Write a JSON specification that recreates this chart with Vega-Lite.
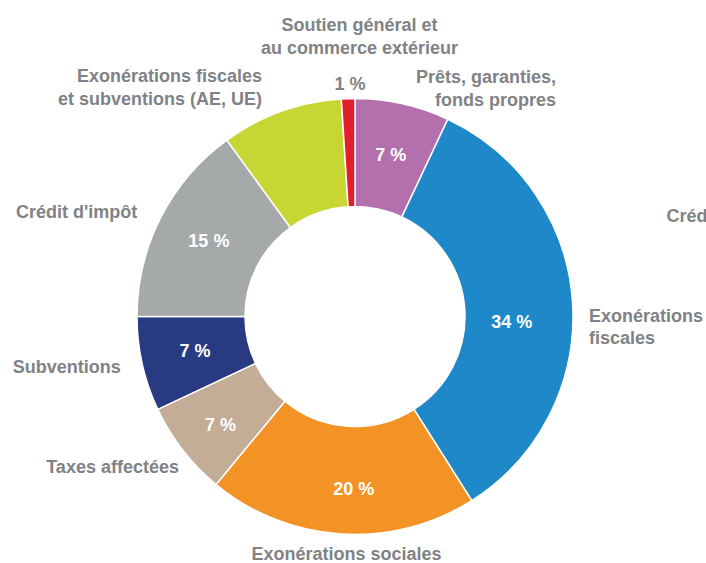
{
  "$schema": "https://vega.github.io/schema/vega-lite/v6.json",
  "width": 702,
  "height": 493,
  "autosize": "none",
  "padding": {"left": 4, "top": 70, "right": 0, "bottom": 0},
  "background": "white",
  "view": {"stroke": null},
  "datasets": {
    "parts": [
      {"k": "pret", "label": "Prêts, garanties,\nfonds propres", "value": 7, "pct": "7 %", "o": 1},
      {"k": "fisc", "label": "Exonérations\nfiscales", "value": 34, "pct": "34 %", "o": 2},
      {"k": "soc", "label": "Exonérations sociales", "value": 20, "pct": "20 %", "o": 3},
      {"k": "tax", "label": "Taxes  affectées", "value": 7, "pct": "7 %", "o": 4},
      {"k": "subv", "label": "Subventions", "value": 7, "pct": "7 %", "o": 5},
      {"k": "cred", "label": "Crédit d'impôt", "value": 15, "pct": "15 %", "o": 6},
      {"k": "ae", "label": "Exonérations fiscales\net subventions (AE, UE)", "value": 9, "pct": "9 %", "o": 7},
      {"k": "sout", "label": "Soutien général et\nau commerce extérieur", "value": 1, "pct": "1 %", "o": 8}
    ],
    "ghost": [{"label": "Crédit d'impôt"}]
  },
  "data": {"name": "parts"},
  "layer": [
    {
      "mark": {"type": "arc", "outerRadius": 218, "innerRadius": 110, "stroke": "white", "strokeWidth": 1.5},
      "encoding": {
        "theta": {"field": "value", "type": "quantitative", "stack": true},
        "order": {"field": "o", "type": "quantitative"},
        "color": {"field": "k", "type": "nominal", "legend": null,
          "scale": {"domain": ["pret", "fisc", "soc", "tax", "subv", "cred", "ae", "sout"],
                    "range": ["#b470ad", "#1e88c8", "#f39325", "#c3ad96", "#283a82", "#a6a9aa", "#c8d634", "#e31e2d"]}}
      }
    },
    {
      "mark": {"type": "text", "radius": 164, "baseline": "middle", "align": "center", "font": "Liberation Sans", "fontWeight": "bold", "fontSize": 18, "fill": "white"},
      "encoding": {
        "theta": {"field": "value", "type": "quantitative", "stack": true},
        "order": {"field": "o", "type": "quantitative"},
        "detail": {"field": "k", "type": "nominal"},
        "text": {"condition": {"test": "datum.k === 'pret' || datum.k === 'subv' || datum.k === 'cred'", "field": "pct", "type": "nominal"}, "value": ""}
      }
    },
    {
      "mark": {"type": "text", "radius": 164, "dx": -7, "dy": 17, "baseline": "middle", "align": "center", "font": "Liberation Sans", "fontWeight": "bold", "fontSize": 18, "fill": "white"},
      "encoding": {
        "theta": {"field": "value", "type": "quantitative", "stack": true},
        "order": {"field": "o", "type": "quantitative"},
        "detail": {"field": "k", "type": "nominal"},
        "text": {"condition": {"test": "datum.k === 'fisc'", "field": "pct", "type": "nominal"}, "value": ""}
      }
    },
    {
      "mark": {"type": "text", "radius": 164, "dx": 9, "dy": 10, "baseline": "middle", "align": "center", "font": "Liberation Sans", "fontWeight": "bold", "fontSize": 18, "fill": "white"},
      "encoding": {
        "theta": {"field": "value", "type": "quantitative", "stack": true},
        "order": {"field": "o", "type": "quantitative"},
        "detail": {"field": "k", "type": "nominal"},
        "text": {"condition": {"test": "datum.k === 'soc'", "field": "pct", "type": "nominal"}, "value": ""}
      }
    },
    {
      "mark": {"type": "text", "radius": 164, "dx": -5, "dy": 9, "baseline": "middle", "align": "center", "font": "Liberation Sans", "fontWeight": "bold", "fontSize": 18, "fill": "white"},
      "encoding": {
        "theta": {"field": "value", "type": "quantitative", "stack": true},
        "order": {"field": "o", "type": "quantitative"},
        "detail": {"field": "k", "type": "nominal"},
        "text": {"condition": {"test": "datum.k === 'tax'", "field": "pct", "type": "nominal"}, "value": ""}
      }
    },
    {
      "mark": {"type": "text", "radius": 240, "dx": 148.6, "dy": -4.3, "baseline": "middle", "align": "right", "font": "Liberation Sans", "fontWeight": "bold", "fontSize": 18, "lineHeight": 23, "lineBreak": "\n", "fill": "#808285"},
      "encoding": {
        "theta": {"field": "value", "type": "quantitative", "stack": true},
        "order": {"field": "o", "type": "quantitative"},
        "detail": {"field": "k", "type": "nominal"},
        "text": {"condition": {"test": "datum.k === 'pret'", "field": "label", "type": "nominal"}, "value": ""}
      }
    },
    {
      "mark": {"type": "text", "radius": 240, "dx": -5.5, "dy": 15.5, "baseline": "middle", "align": "left", "font": "Liberation Sans", "fontWeight": "bold", "fontSize": 18, "lineHeight": 22, "lineBreak": "\n", "fill": "#808285"},
      "encoding": {
        "theta": {"field": "value", "type": "quantitative", "stack": true},
        "order": {"field": "o", "type": "quantitative"},
        "detail": {"field": "k", "type": "nominal"},
        "text": {"condition": {"test": "datum.k === 'fisc'", "field": "label", "type": "nominal"}, "value": ""}
      }
    },
    {
      "mark": {"type": "text", "radius": 240, "dx": 6.6, "dy": -1, "baseline": "middle", "align": "center", "font": "Liberation Sans", "fontWeight": "bold", "fontSize": 18, "lineHeight": 23, "lineBreak": "\n", "fill": "#808285"},
      "encoding": {
        "theta": {"field": "value", "type": "quantitative", "stack": true},
        "order": {"field": "o", "type": "quantitative"},
        "detail": {"field": "k", "type": "nominal"},
        "text": {"condition": {"test": "datum.k === 'soc'", "field": "label", "type": "nominal"}, "value": ""}
      }
    },
    {
      "mark": {"type": "text", "radius": 240, "dx": 13.6, "dy": 4.4, "baseline": "middle", "align": "right", "font": "Liberation Sans", "fontWeight": "bold", "fontSize": 18, "lineHeight": 23, "lineBreak": "\n", "fill": "#808285"},
      "encoding": {
        "theta": {"field": "value", "type": "quantitative", "stack": true},
        "order": {"field": "o", "type": "quantitative"},
        "detail": {"field": "k", "type": "nominal"},
        "text": {"condition": {"test": "datum.k === 'tax'", "field": "label", "type": "nominal"}, "value": ""}
      }
    },
    {
      "mark": {"type": "text", "radius": 240, "dx": 0, "dy": -1, "baseline": "middle", "align": "right", "font": "Liberation Sans", "fontWeight": "bold", "fontSize": 18, "lineHeight": 23, "lineBreak": "\n", "fill": "#808285"},
      "encoding": {
        "theta": {"field": "value", "type": "quantitative", "stack": true},
        "order": {"field": "o", "type": "quantitative"},
        "detail": {"field": "k", "type": "nominal"},
        "text": {"condition": {"test": "datum.k === 'subv'", "field": "label", "type": "nominal"}, "value": ""}
      }
    },
    {
      "mark": {"type": "text", "radius": 240, "dx": -4, "dy": 5.5, "baseline": "middle", "align": "right", "font": "Liberation Sans", "fontWeight": "bold", "fontSize": 18, "lineHeight": 23, "lineBreak": "\n", "fill": "#808285"},
      "encoding": {
        "theta": {"field": "value", "type": "quantitative", "stack": true},
        "order": {"field": "o", "type": "quantitative"},
        "detail": {"field": "k", "type": "nominal"},
        "text": {"condition": {"test": "datum.k === 'cred'", "field": "label", "type": "nominal"}, "value": ""}
      }
    },
    {
      "mark": {"type": "text", "radius": 240, "dx": -11.7, "dy": -13.2, "baseline": "middle", "align": "right", "font": "Liberation Sans", "fontWeight": "bold", "fontSize": 18, "lineHeight": 23, "lineBreak": "\n", "fill": "#808285"},
      "encoding": {
        "theta": {"field": "value", "type": "quantitative", "stack": true},
        "order": {"field": "o", "type": "quantitative"},
        "detail": {"field": "k", "type": "nominal"},
        "text": {"condition": {"test": "datum.k === 'ae'", "field": "label", "type": "nominal"}, "value": ""}
      }
    },
    {
      "mark": {"type": "text", "radius": 240, "dx": 12, "dy": -51, "baseline": "middle", "align": "center", "font": "Liberation Sans", "fontWeight": "bold", "fontSize": 18, "lineHeight": 23, "lineBreak": "\n", "fill": "#808285"},
      "encoding": {
        "theta": {"field": "value", "type": "quantitative", "stack": true},
        "order": {"field": "o", "type": "quantitative"},
        "detail": {"field": "k", "type": "nominal"},
        "text": {"condition": {"test": "datum.k === 'sout'", "field": "label", "type": "nominal"}, "value": ""}
      }
    },
    {
      "mark": {"type": "text", "radius": 240, "dx": 2.5, "dy": 8.5, "baseline": "middle", "align": "center", "font": "Liberation Sans", "fontWeight": "bold", "fontSize": 18, "fill": "#808285"},
      "encoding": {
        "theta": {"field": "value", "type": "quantitative", "stack": true},
        "order": {"field": "o", "type": "quantitative"},
        "detail": {"field": "k", "type": "nominal"},
        "text": {"condition": {"test": "datum.k === 'sout'", "field": "pct", "type": "nominal"}, "value": ""}
      }
    },
    {
      "data": {"name": "ghost"},
      "mark": {"type": "text", "theta": 1.262, "radius": 327, "baseline": "middle", "align": "left", "font": "Liberation Sans", "fontWeight": "bold", "fontSize": 18, "fill": "#808285"},
      "encoding": {"text": {"field": "label", "type": "nominal"}}
    }
  ]
}
